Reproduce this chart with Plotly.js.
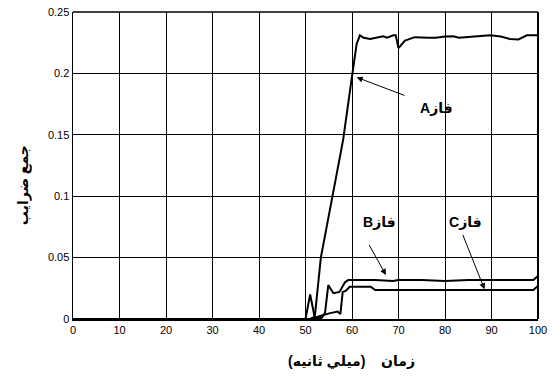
<!DOCTYPE html>
<html>
<head>
<meta charset="utf-8">
<script src="https://cdn.plot.ly/plotly-3.0.1.min.js"></script>
<style>html,body{margin:0;padding:0;background:#fff;}#chart{width:558px;height:376px;}</style>
</head>
<body>
<div id="chart"></div>
<script>
// Phase A
const phaseA_x = [0, 50, 51, 52, 52.6, 53.3, 54.4, 55.6, 56.8, 58.1, 59.9, 60.3, 61.0, 61.7, 62.5, 63.9, 65, 66.7, 67.5, 68.9, 69.4, 70.0, 71.4, 73.5, 76.5, 78, 80, 81.8, 83, 84.7, 87, 89.7, 92, 94, 95.8, 97.6, 100];
const phaseA_y = [0, 0, 0, 0.002, 0.024, 0.05, 0.072, 0.097, 0.12, 0.146, 0.195, 0.205, 0.224, 0.231, 0.229, 0.228, 0.229, 0.2303, 0.229, 0.231, 0.231, 0.2206, 0.2268, 0.2295, 0.229, 0.229, 0.230, 0.2303, 0.229, 0.2295, 0.230, 0.231, 0.230, 0.228, 0.2277, 0.231, 0.231];
// Phase B
const phaseB_x = [0, 50, 52, 53.5, 54.2, 54.9, 56.0, 57.3, 58.5, 59.2, 62, 65, 68.8, 70, 75, 80, 85, 90, 95, 99, 100];
const phaseB_y = [0, 0, 0, 0.001, 0.005, 0.0276, 0.021, 0.022, 0.030, 0.0317, 0.0317, 0.0317, 0.031, 0.0317, 0.0317, 0.031, 0.0317, 0.0317, 0.0317, 0.0317, 0.035];
// Phase C
const phaseC_x = [0, 50, 51, 52, 53.7, 55.1, 56.9, 57.5, 58.0, 58.7, 59.5, 62, 64, 65, 70, 80, 90, 99, 100];
const phaseC_y = [0, 0, 0.020, 0.001, 0.003, 0.0046, 0.006, 0.004, 0.022, 0.023, 0.0263, 0.0263, 0.0263, 0.0236, 0.0236, 0.0236, 0.0236, 0.0236, 0.027];

const xTickVals = [0, 10, 20, 30, 40, 50, 60, 70, 80, 90, 100];
const yTickVals = [0, 0.05, 0.1, 0.15, 0.2, 0.25];
const yTickText = ['0', '0.05', '0.1', '0.15', '0.2', '0.25'];

const labelA = '\u202B\u0641\u0627\u0632A\u202C';
const labelB = '\u202B\u0641\u0627\u0632B\u202C';
const labelC = '\u202B\u0641\u0627\u0632C\u202C';
const xTitle = '\u202B\u0632\u0645\u0627\u0646\u00A0\u00A0\u00A0\u00A0(\u0645\u064A\u0644\u064A \u062B\u0627\u0646\u064A\u0647)\u202C';
const yTitle = '\u202B\u062C\u0645\u0639 \u0636\u0631\u0627\u064A\u0628\u202C';

const lineStyle = {color: '#000', width: 2};
const traces = [
  {x: phaseA_x, y: phaseA_y, mode: 'lines', line: lineStyle, name: 'A', hoverinfo: 'skip'},
  {x: phaseB_x, y: phaseB_y, mode: 'lines', line: lineStyle, name: 'B', hoverinfo: 'skip'},
  {x: phaseC_x, y: phaseC_y, mode: 'lines', line: lineStyle, name: 'C', hoverinfo: 'skip'}
];

const tickFont = {family: 'Arial, "Liberation Sans", sans-serif', size: 11, color: '#000'};
const boldFont = {family: 'Arial, "Liberation Sans", "DejaVu Sans", sans-serif', size: 14, color: '#000', weight: 'bold'};

function arrow(tx, ty, fx, fy) {
  return {x: tx, y: ty, ax: fx, ay: fy, xref: 'x', yref: 'y', axref: 'x', ayref: 'y',
    text: '', showarrow: true, arrowhead: 2, arrowsize: 1.2, arrowwidth: 1, arrowcolor: '#000', standoff: 0, startstandoff: 0};
}

const layout = {
  width: 558, height: 376,
  margin: {l: 73, r: 20, t: 12, b: 57},
  paper_bgcolor: '#fff', plot_bgcolor: '#fff',
  showlegend: false,
  xaxis: {range: [0, 100], tickvals: xTickVals, ticktext: xTickVals.map(String), showgrid: true, gridcolor: '#000', gridwidth: 1,
    zeroline: false, showline: true, linecolor: '#000', linewidth: 2, mirror: false, ticks: '', tickfont: tickFont, fixedrange: true},
  yaxis: {range: [0, 0.25], tickvals: yTickVals, ticktext: yTickText, showgrid: true, gridcolor: '#000', gridwidth: 1,
    zeroline: false, showline: true, linecolor: '#000', linewidth: 1.5, mirror: false, ticks: '', tickfont: tickFont, fixedrange: true},
  shapes: [
    {type: 'line', xref: 'paper', yref: 'paper', x0: 0, x1: 1, y0: 1, y1: 1, line: {color: '#000', width: 1.5}},
    {type: 'line', xref: 'paper', yref: 'paper', x0: 1, x1: 1, y0: 0, y1: 1, line: {color: '#000', width: 2}}
  ],
  annotations: [
    {text: labelA, x: 78.1, y: 0.1718, xref: 'x', yref: 'y', showarrow: false, font: boldFont},
    {text: labelB, x: 66.0, y: 0.079, xref: 'x', yref: 'y', showarrow: false, font: boldFont},
    {text: labelC, x: 84.5, y: 0.079, xref: 'x', yref: 'y', showarrow: false, font: boldFont},
    arrow(61.0, 0.1968, 71.6, 0.1816),
    arrow(67.3, 0.0358, 63.5, 0.0616),
    arrow(88.5, 0.0242, 83.7, 0.0698),
    {text: xTitle, x: 0.598, y: -0.14, xref: 'paper', yref: 'paper', xanchor: 'center', yanchor: 'middle', showarrow: false, font: boldFont},
    {text: yTitle, x: -0.105, y: 0.4365, xref: 'paper', yref: 'paper', xanchor: 'center', yanchor: 'middle', textangle: -90, showarrow: false, font: boldFont}
  ]
};

Plotly.newPlot('chart', traces, layout, {staticPlot: true, displayModeBar: false});
</script>
</body>
</html>
